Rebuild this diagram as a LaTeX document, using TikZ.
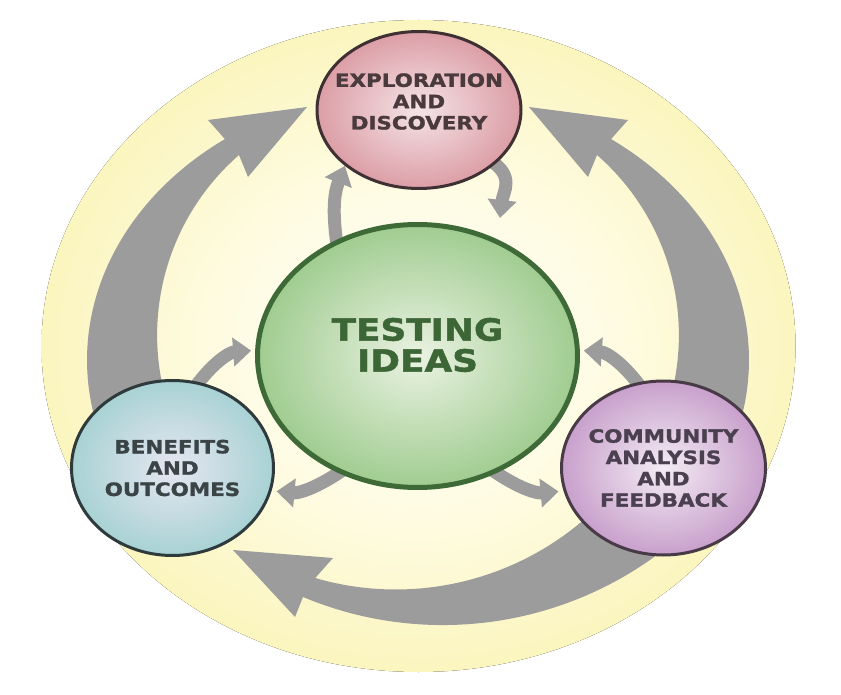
\documentclass[tikz,border=0pt]{standalone}
\usepackage{fontspec}
\newfontfamily\lblfont[FakeStretch=1.17,FakeBold=1.5]{DejaVu Sans}
\usetikzlibrary{arrows.meta,shapes.geometric,backgrounds}

\definecolor{arrowgray}{HTML}{9C9C9C}
\definecolor{glowin}{HTML}{FFFFFA}
\definecolor{glowmid}{HTML}{FEFBE0}
\definecolor{glowout}{HTML}{FBF5BE}
\definecolor{redin}{HTML}{F4E4E7}
\definecolor{redout}{HTML}{DC9EA6}
\definecolor{redline}{HTML}{3F3034}
\definecolor{redtext}{HTML}{4A3A3D}
\definecolor{greenin}{HTML}{EAF2E2}
\definecolor{greenout}{HTML}{A0CC90}
\definecolor{greenline}{HTML}{3E6A38}
\definecolor{greentext}{HTML}{3D6637}
\definecolor{bluein}{HTML}{E6E6F1}
\definecolor{blueout}{HTML}{A8D2D4}
\definecolor{blueline}{HTML}{2F3A3C}
\definecolor{bluetext}{HTML}{3A4446}
\definecolor{purplein}{HTML}{F4ECF4}
\definecolor{purpleout}{HTML}{C8A0CC}
\definecolor{purpleline}{HTML}{483A47}
\definecolor{purpletext}{HTML}{4B4050}

\pgfdeclareradialshading{glow}{\pgfpoint{0bp}{0bp}}{color(0bp)=(glowin); color(14bp)=(glowmid); color(25bp)=(glowout); color(50bp)=(glowout)}

\tikzset{
  bubble/.style={ellipse, line width=3pt, inner sep=0pt},
  bubbletext/.style={font=\lblfont\bfseries\fontsize{18.3}{21.3}\selectfont, align=center},
  smallarrow/.style={arrowgray, line width=13pt, -{Triangle[width=28pt,length=18pt]}, shorten <=-8pt},
}

\begin{document}
\begin{tikzpicture}[x=1pt,y=-1pt]
    \useasboundingbox (0,0) rectangle (841,695);

    % bubbles
    \node[bubble, draw=redline, inner color=redin, outer color=redout, minimum width=204pt, minimum height=157pt] (explore) at (419,110) {};
    \node[bubble, draw=greenline, line width=5pt, inner color=greenin, outer color=greenout, minimum width=320pt, minimum height=263pt] (test) at (417.5,356) {};
    \node[bubble, draw=blueline, inner color=bluein, outer color=blueout, minimum width=202pt, minimum height=175pt] (benefit) at (172.5,468) {};
    \node[bubble, draw=purpleline, inner color=purplein, outer color=purpleout, minimum width=204pt, minimum height=174pt] (feedback) at (663.5,468) {};

    % texts
    \node[bubbletext, text=redtext] (exploretext) at ([yshift=8.5pt]explore.center) {EXPLORATION\\AND\\DISCOVERY};
    \node[bubbletext, text=greentext, font=\lblfont\bfseries\fontsize{30.6}{31}\selectfont] (testtext) at ([yshift=11pt]test.center) {TESTING\\IDEAS};
    \node[bubbletext, text=bluetext] (benefittext) at (benefit) {BENEFITS\\AND\\OUTCOMES};
    \node[bubbletext, text=purpletext] (feedbacktext) at (feedback) {COMMUNITY\\ANALYSIS\\AND\\FEEDBACK};

    % free end of the arrow going back down
    \coordinate (dropin) at (500,218);

    \begin{scope}[on background layer]
        \fill[white] (0,0) rectangle (841,695);
        \fill[shading=glow] (418.5,346) ellipse [x radius=377, y radius=326];

        % big arrows, left one and its mirror
        \foreach \flip/\shift in {1/0, -1/836} {
            \begin{scope}[xshift=\shift pt, xscale=\flip]
                \fill[arrowgray] (101.5,439.5) arc[start angle=163, end angle=234.3, x radius=331, y radius=272]
                    -- (208,120) -- (307,107) -- (248,177) -- (239,155)
                    arc[start angle=228.9, end angle=164.1, radius=239] -- cycle;
            \end{scope}
        }
        % bottom one
        \fill[arrowgray] (616.8,486.4) arc[start angle=40, end angle=106.2, radius=288.6]
            -- (333,558) -- (233,550) -- (295,617) -- (303,597)
            arc[start angle=112.7, end angle=50, radius=362.2] -- cycle;

        % small arrows
        \draw[smallarrow] (test.125) to[bend left=15] (explore.217);
        \draw[smallarrow] (explore.-35) .. controls (516,176) and (503,192) .. (dropin);
        \draw[smallarrow, shorten >=4pt] (benefit.73) to[bend left=25] (test.178);
        \draw[smallarrow, shorten >=4pt] (feedback.107) to[bend right=25] (test.2);
        \draw[smallarrow, shorten >=5pt] (test.236) to[bend left=20] (benefit.347);
        \draw[smallarrow, shorten >=5pt] (test.304) to[bend right=20] (feedback.193);
    \end{scope}
\end{tikzpicture}
\end{document}
